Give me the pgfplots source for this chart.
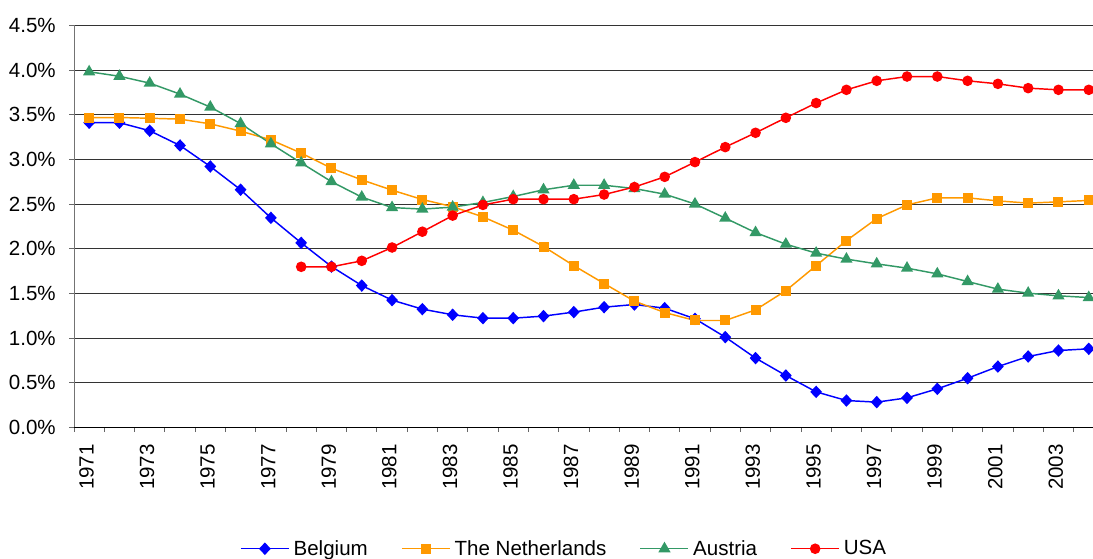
\documentclass[border=0pt]{standalone}
\usepackage{fontspec}
\setmainfont{Liberation Sans}
\usepackage{pgfplots}
\pgfplotsset{compat=1.18}
\definecolor{cBel}{RGB}{0,0,255}
\definecolor{cNed}{RGB}{255,153,0}
\definecolor{cAut}{RGB}{51,153,102}
\definecolor{cUSA}{RGB}{255,0,0}
\newcommand{\chartfont}{\fontsize{15.4}{18}\selectfont}
\begin{document}
\begin{tikzpicture}
\begin{axis}[name=ax, scale only axis, width=764.25pt, height=301.5pt,
  xmin=1970.5, xmax=2004.14, ymin=0, ymax=4.5,
  axis x line=bottom, axis y line=left, axis line style={-},
  x axis line style={black}, y axis line style={black!55},
  /pgf/number format/assume math mode=true,
  ytick={0,0.5,...,4.5},
  yticklabel={\pgfmathprintnumber[fixed,fixed zerofill,precision=1]{\tick}\%},
  ymajorgrids=true, grid style={black!80, line width=0.7pt},
  xtick={1971,1973,...,2003},
  xticklabels={1971,1973,1975,1977,1979,1981,1983,1985,1987,1989,1991,1993,1995,1997,1999,2001,2003},
  minor xtick={1970.5,1971.5,...,2004.5},
  major x tick style={draw=none},
  tick align=outside, major tick length=3.5pt, minor tick length=3.5pt,
  tick style={black!60, line width=0.6pt},
  every tick label/.append style={font=\chartfont},
  xticklabel style={yshift=-9pt, xshift=-2pt, rotate=90, anchor=east, inner sep=0pt},
  yticklabel style={inner sep=0pt, xshift=-10pt},
  legend style={at={(0.482,-0.302)}, anchor=center, draw=none, fill=none,
    legend columns=4, font=\chartfont,
    /tikz/every even column/.append style={column sep=22pt},
    nodes={inner xsep=3pt, inner ysep=1pt}},
  legend image code/.code={\draw[mark repeat=2,mark phase=2,#1] plot coordinates {(0pt,0pt) (18pt,0pt) (36pt,0pt)};},
  every axis plot/.append style={line width=1.1pt},
]
\addplot[color=cBel, mark=diamond*, mark size=3.9pt, mark options={solid, xscale=1.25}] coordinates {
(1971,3.41) (1972,3.41) (1973,3.32) (1974,3.155) (1975,2.92) (1976,2.66) (1977,2.345)
(1978,2.065) (1979,1.80) (1980,1.587) (1981,1.424) (1982,1.323) (1983,1.26) (1984,1.222)
(1985,1.222) (1986,1.245) (1987,1.29) (1988,1.345) (1989,1.375) (1990,1.334) (1991,1.215)
(1992,1.01) (1993,0.775) (1994,0.58) (1995,0.397) (1996,0.30) (1997,0.282) (1998,0.33)
(1999,0.431) (2000,0.55) (2001,0.68) (2002,0.793) (2003,0.86) (2004,0.879)};
\addlegendentry{Belgium}
\addplot[color=cNed, mark=square*, mark size=3.2pt, mark options={solid}] coordinates {
(1971,3.468) (1972,3.468) (1973,3.46) (1974,3.45) (1975,3.397) (1976,3.316) (1977,3.218)
(1978,3.07) (1979,2.90) (1980,2.77) (1981,2.655) (1982,2.55) (1983,2.47) (1984,2.356)
(1985,2.207) (1986,2.024) (1987,1.81) (1988,1.61) (1989,1.413) (1990,1.285) (1991,1.196)
(1992,1.196) (1993,1.315) (1994,1.53) (1995,1.81) (1996,2.09) (1997,2.337) (1998,2.49)
(1999,2.569) (2000,2.569) (2001,2.535) (2002,2.51) (2003,2.524) (2004,2.54)};
\addlegendentry{The Netherlands}
\addplot[color=cAut, mark=triangle*, mark size=4.2pt, mark options={solid}] coordinates {
(1971,3.98) (1972,3.93) (1973,3.853) (1974,3.73) (1975,3.585) (1976,3.40) (1977,3.174)
(1978,2.96) (1979,2.75) (1980,2.577) (1981,2.46) (1982,2.443) (1983,2.465) (1984,2.517)
(1985,2.584) (1986,2.659) (1987,2.71) (1988,2.71) (1989,2.673) (1990,2.61) (1991,2.50)
(1992,2.342) (1993,2.18) (1994,2.05) (1995,1.95) (1996,1.883) (1997,1.83) (1998,1.782)
(1999,1.718) (2000,1.632) (2001,1.547) (2002,1.502) (2003,1.472) (2004,1.453)};
\addlegendentry{Austria}
\addplot[color=cUSA, mark=*, mark size=3.4pt, mark options={solid}] coordinates {
(1978,1.797) (1979,1.797) (1980,1.864) (1981,2.013) (1982,2.19) (1983,2.37) (1984,2.49)
(1985,2.554) (1986,2.554) (1987,2.554) (1988,2.606) (1989,2.69) (1990,2.804) (1991,2.969)
(1992,3.137) (1993,3.297) (1994,3.465) (1995,3.63) (1996,3.778) (1997,3.879) (1998,3.927)
(1999,3.927) (2000,3.879) (2001,3.845) (2002,3.797) (2003,3.778) (2004,3.778)};
\addlegendentry{USA}
\end{axis}
\pgfresetboundingbox
\path[use as bounding box] ([xshift=-55.5pt,yshift=-98pt]ax.south west) rectangle ([yshift=19pt]ax.north east);
\end{tikzpicture}
\end{document}
